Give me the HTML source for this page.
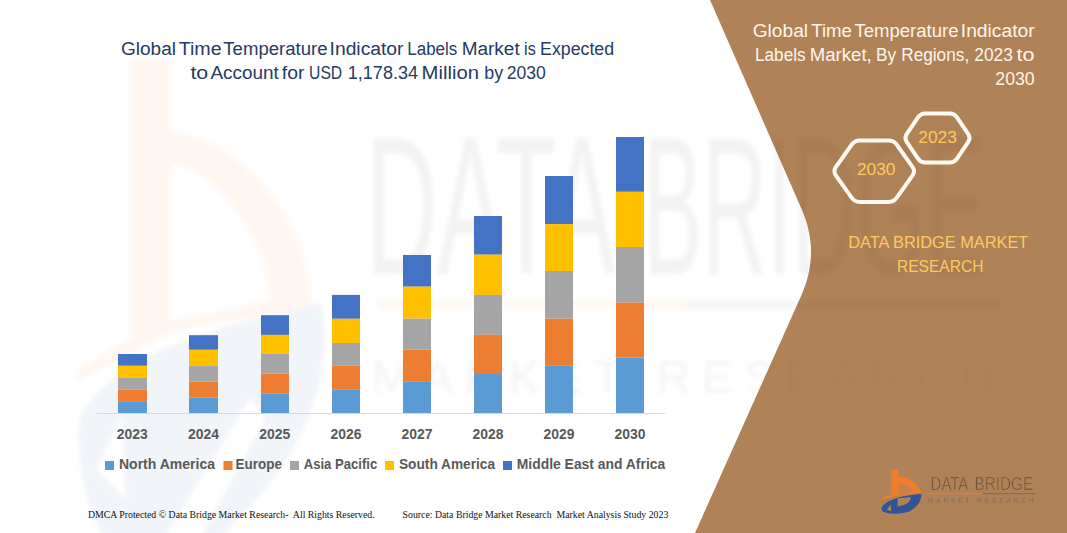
<!DOCTYPE html>
<html>
<head>
<meta charset="utf-8">
<title>Global Time Temperature Indicator Labels Market</title>
<style>
html,body{margin:0;padding:0;background:#fff;}
body{width:1067px;height:533px;overflow:hidden;position:relative;font-family:"Liberation Sans",sans-serif;}
svg{position:absolute;left:0;top:0;display:block;}
text{font-family:"Liberation Sans",sans-serif;}
.serif{font-family:"Liberation Serif",serif;}
</style>
</head>
<body>
<svg width="1067" height="533" viewBox="0 0 1067 533">
  <defs>
    <filter id="blur2" x="-10%" y="-10%" width="120%" height="120%"><feGaussianBlur stdDeviation="2"/></filter>
    <filter id="blur05" x="-5%" y="-5%" width="110%" height="110%"><feGaussianBlur stdDeviation="0.45"/></filter>
    <filter id="blur1" x="-10%" y="-10%" width="120%" height="120%"><feGaussianBlur stdDeviation="1.2"/></filter>
  
    <g id="lg">
      <!-- orange b -->
      <path stroke="none" fill="#f57d28" fill-rule="evenodd" d="M891.1,469.6 H898.3 V476.6 C907,476.6 917,481 921.5,492.9 L900,495.6 L882,499.6 L881,498.6 L891.1,494.5 Z M898.3,483.8 C905,484 911,487 913.5,492.5 L898.3,494.3 Z"/>
      <path stroke="none" fill="#f57d28" fill-opacity="0.35" d="M898.3,483.8 C905,484 911,487 913.5,492.5 L898.3,494.3 Z"/>
      <!-- blue swoosh -->
      <path stroke="none" fill="#27519c" fill-rule="evenodd" d="M881.6,507.6 C886,501 897,496 921.5,493.8 C921.5,502 916,509.5 905.8,512.6 C898,514.3 888,514 883.3,511.8 C881.5,510.5 881.2,509 881.6,507.6 Z M897.6,498.6 L910.6,496.9 C911,500.5 908.3,505.2 897.6,506.5 Z M886.8,509.6 L890.8,504.6 L891.2,511.4 Z"/>
      <g id="lgt">
      <text x="930.6" y="490" font-size="18" fill="#5a4636" fill-opacity="0.9" textLength="37.7" lengthAdjust="spacingAndGlyphs">DATA</text>
      <text x="974.6" y="490" font-size="18" fill="#5a4636" fill-opacity="0.9" textLength="58.6" lengthAdjust="spacingAndGlyphs">BRIDGE</text>
      <rect stroke="none" x="927" y="493.1" width="55.4" height="1.1" fill="#f57d28"/>
      <rect stroke="none" x="982.4" y="493.1" width="53.4" height="1.1" fill="#7d6a5c"/>
      <text stroke="none" x="928" y="503" font-size="6.4" fill="#7d6a5c" textLength="105.5" lengthAdjust="spacing">MARKET RESEARCH</text>
    </g>
    </g>
  </defs>
  <rect x="0" y="0" width="1067" height="533" fill="#ffffff"/>

  <!-- brown panel -->
  <path id="panel" d="M710,0 L802,210 C808,224 811,238 811,252 C811,266 808,280 801.5,295 L695,533 L1067,533 L1067,0 Z" fill="#b08257"/>

  <!-- WATERMARK -->
  <g id="wm" opacity="0.06" filter="url(#blur2)">
    <path fill="#f57d28" fill-rule="evenodd" d="M131,58 H172 V130 C216,138 262,172 288,220 C304,250 311,280 312,306 L172,332 L92,374 L77,381 L75,371 L131,338 Z M172,163 C210,172 244,210 261,256 C267,272 270,288 270,300 L172,321 Z"/>
    <path fill="#27519c" fill-rule="evenodd" d="M79,424 C92,382 150,338 320,303 C331,340 322,400 292,450 C272,485 242,515 215,545 L108,545 C88,512 77,470 79,424 Z M250,398 L266,418 L196,545 L160,545 Z M96,470 L122,415 L126,500 Z"/>
    <g fill="#4a3c32">
      <text x="366" y="273.7" font-size="196" textLength="249" lengthAdjust="spacingAndGlyphs">DATA</text>
      <text x="643" y="273.7" font-size="196" textLength="342" lengthAdjust="spacingAndGlyphs">BRIDGE</text>
      <rect x="377" y="300.5" width="310" height="8" fill="#f57d28"/>
      <rect x="687" y="300.5" width="314" height="8" fill="#6d5a4c"/>
      <text x="372" y="393" font-size="46" fill="#6d5a4c" textLength="622" lengthAdjust="spacing">MARKET RESEARCH</text>
    </g>
  </g>

  <!-- CHART -->
  <g id="chart">
    <line x1="97" y1="413.5" x2="665" y2="413.5" stroke="#d9d9d9" stroke-width="1"/>
    <rect x="118" y="354.0" width="29" height="11.8" fill="#4472c4"/>
    <rect x="118" y="365.8" width="29" height="12.2" fill="#ffc000"/>
    <rect x="118" y="378.0" width="29" height="11.8" fill="#a5a5a5"/>
    <rect x="118" y="389.8" width="29" height="12.1" fill="#ed7d31"/>
    <rect x="118" y="401.9" width="29" height="11.1" fill="#5b9bd5"/>
    <rect x="189" y="335.2" width="29" height="14.6" fill="#4472c4"/>
    <rect x="189" y="349.8" width="29" height="16.3" fill="#ffc000"/>
    <rect x="189" y="366.1" width="29" height="15.5" fill="#a5a5a5"/>
    <rect x="189" y="381.6" width="29" height="16.0" fill="#ed7d31"/>
    <rect x="189" y="397.6" width="29" height="15.4" fill="#5b9bd5"/>
    <rect x="261" y="315.2" width="28" height="19.7" fill="#4472c4"/>
    <rect x="261" y="334.9" width="28" height="19.1" fill="#ffc000"/>
    <rect x="261" y="354.0" width="28" height="19.7" fill="#a5a5a5"/>
    <rect x="261" y="373.7" width="28" height="20.0" fill="#ed7d31"/>
    <rect x="261" y="393.7" width="28" height="19.3" fill="#5b9bd5"/>
    <rect x="332" y="294.9" width="28" height="23.9" fill="#4472c4"/>
    <rect x="332" y="318.8" width="28" height="24.2" fill="#ffc000"/>
    <rect x="332" y="343.0" width="28" height="22.8" fill="#a5a5a5"/>
    <rect x="332" y="365.8" width="28" height="24.0" fill="#ed7d31"/>
    <rect x="332" y="389.8" width="28" height="23.2" fill="#5b9bd5"/>
    <rect x="403" y="255.0" width="28" height="31.7" fill="#4472c4"/>
    <rect x="403" y="286.7" width="28" height="32.0" fill="#ffc000"/>
    <rect x="403" y="318.7" width="28" height="31.0" fill="#a5a5a5"/>
    <rect x="403" y="349.7" width="28" height="32.1" fill="#ed7d31"/>
    <rect x="403" y="381.8" width="28" height="31.2" fill="#5b9bd5"/>
    <rect x="474" y="216.0" width="28" height="38.7" fill="#4472c4"/>
    <rect x="474" y="254.7" width="28" height="40.2" fill="#ffc000"/>
    <rect x="474" y="294.9" width="28" height="39.9" fill="#a5a5a5"/>
    <rect x="474" y="334.8" width="28" height="39.2" fill="#ed7d31"/>
    <rect x="474" y="374.0" width="28" height="39.0" fill="#5b9bd5"/>
    <rect x="545" y="176.0" width="28" height="48.1" fill="#4472c4"/>
    <rect x="545" y="224.1" width="28" height="46.9" fill="#ffc000"/>
    <rect x="545" y="271.0" width="28" height="47.7" fill="#a5a5a5"/>
    <rect x="545" y="318.7" width="28" height="47.1" fill="#ed7d31"/>
    <rect x="545" y="365.8" width="28" height="47.2" fill="#5b9bd5"/>
    <rect x="616" y="137.0" width="28" height="54.8" fill="#4472c4"/>
    <rect x="616" y="191.8" width="28" height="55.2" fill="#ffc000"/>
    <rect x="616" y="247.0" width="28" height="55.7" fill="#a5a5a5"/>
    <rect x="616" y="302.7" width="28" height="54.9" fill="#ed7d31"/>
    <rect x="616" y="357.6" width="28" height="55.4" fill="#5b9bd5"/>

    <!-- axis labels -->
    <g font-weight="bold" font-size="14" fill="#595959" text-anchor="middle">
      <text x="132.2" y="439.2" textLength="31" lengthAdjust="spacingAndGlyphs">2023</text>
      <text x="203.5" y="439.2" textLength="31" lengthAdjust="spacingAndGlyphs">2024</text>
      <text x="274.8" y="439.2" textLength="31" lengthAdjust="spacingAndGlyphs">2025</text>
      <text x="346" y="439.2" textLength="31" lengthAdjust="spacingAndGlyphs">2026</text>
      <text x="417" y="439.2" textLength="31" lengthAdjust="spacingAndGlyphs">2027</text>
      <text x="488" y="439.2" textLength="31" lengthAdjust="spacingAndGlyphs">2028</text>
      <text x="559" y="439.2" textLength="31" lengthAdjust="spacingAndGlyphs">2029</text>
      <text x="630" y="439.2" textLength="31" lengthAdjust="spacingAndGlyphs">2030</text>
    </g>
    <!-- legend -->
    <rect x="105" y="461" width="9" height="9" fill="#5b9bd5"/>
    <rect x="223.5" y="461" width="9" height="9" fill="#ed7d31"/>
    <rect x="290" y="461" width="9" height="9" fill="#a5a5a5"/>
    <rect x="385" y="461" width="9" height="9" fill="#ffc000"/>
    <rect x="503" y="461" width="9" height="9" fill="#4472c4"/>
    <g font-weight="bold" font-size="14" fill="#595959">
      <text x="119" y="469.2" textLength="96" lengthAdjust="spacingAndGlyphs">North America</text>
      <text x="235.6" y="469.2" textLength="46.4" lengthAdjust="spacingAndGlyphs">Europe</text>
      <text x="303.7" y="469.2" textLength="73.6" lengthAdjust="spacingAndGlyphs">Asia Pacific</text>
      <text x="399" y="469.2" textLength="96" lengthAdjust="spacingAndGlyphs">South America</text>
      <text x="516.8" y="469.2" textLength="148.4" lengthAdjust="spacingAndGlyphs">Middle East and Africa</text>
    </g>
    <!-- title -->
    <g font-size="18" fill="#263a63">
      <text x="121.0" y="54.8" textLength="55.0" lengthAdjust="spacingAndGlyphs">Global</text>
      <text x="178.7" y="54.8" textLength="42.9" lengthAdjust="spacingAndGlyphs">Time</text>
      <text x="223.3" y="54.8" textLength="104.3" lengthAdjust="spacingAndGlyphs">Temperature</text>
      <text x="329.6" y="54.8" textLength="73.9" lengthAdjust="spacingAndGlyphs">Indicator</text>
      <text x="407.3" y="54.8" textLength="49.9" lengthAdjust="spacingAndGlyphs">Labels</text>
      <text x="461.7" y="54.8" textLength="58.0" lengthAdjust="spacingAndGlyphs">Market</text>
      <text x="524.1" y="54.8" textLength="11.6" lengthAdjust="spacingAndGlyphs">is</text>
      <text x="540.1" y="54.8" textLength="74.0" lengthAdjust="spacingAndGlyphs">Expected</text>
      <text x="190.4" y="78.6" textLength="17.8" lengthAdjust="spacingAndGlyphs">to</text>
      <text x="210.4" y="78.6" textLength="68.4" lengthAdjust="spacingAndGlyphs">Account</text>
      <text x="281.8" y="78.6" textLength="22.6" lengthAdjust="spacingAndGlyphs">for</text>
      <text x="309.1" y="78.6" textLength="33.1" lengthAdjust="spacingAndGlyphs">USD</text>
      <text x="347.8" y="78.6" textLength="70.2" lengthAdjust="spacingAndGlyphs">1,178.34</text>
      <text x="421.6" y="78.6" textLength="57.4" lengthAdjust="spacingAndGlyphs">Million</text>
      <text x="484.3" y="78.6" textLength="18.9" lengthAdjust="spacingAndGlyphs">by</text>
      <text x="506.7" y="78.6" textLength="39.2" lengthAdjust="spacingAndGlyphs">2030</text>
    </g>
    <!-- footer -->
    <g class="serif" font-size="10" fill="#111">
      <text class="serif" x="88" y="517.8" textLength="286.7" lengthAdjust="spacingAndGlyphs" xml:space="preserve">DMCA Protected © Data Bridge Market Research-  All Rights Reserved.</text>
      <text class="serif" x="402.6" y="517.8" textLength="265.7" lengthAdjust="spacingAndGlyphs" xml:space="preserve">Source: Data Bridge Market Research  Market Analysis Study 2023</text>
    </g>
  </g>

  <!-- RIGHT PANEL CONTENT -->
  <g id="right">
    <g font-size="18" fill="#fdf6ec">
      <text x="752.7" y="37.3" textLength="55.4" lengthAdjust="spacingAndGlyphs">Global</text>
      <text x="811.2" y="37.3" textLength="40.8" lengthAdjust="spacingAndGlyphs">Time</text>
      <text x="854.5" y="37.3" textLength="104.0" lengthAdjust="spacingAndGlyphs">Temperature</text>
      <text x="960.8" y="37.3" textLength="73.9" lengthAdjust="spacingAndGlyphs">Indicator</text>
      <text x="755.0" y="61.3" textLength="50.6" lengthAdjust="spacingAndGlyphs">Labels</text>
      <text x="809.8" y="61.3" textLength="61.9" lengthAdjust="spacingAndGlyphs">Market,</text>
      <text x="875.9" y="61.3" textLength="20.2" lengthAdjust="spacingAndGlyphs">By</text>
      <text x="901.2" y="61.3" textLength="68.0" lengthAdjust="spacingAndGlyphs">Regions,</text>
      <text x="974.3" y="61.3" textLength="38.5" lengthAdjust="spacingAndGlyphs">2023</text>
      <text x="1016.4" y="61.3" textLength="18.0" lengthAdjust="spacingAndGlyphs">to</text>
      <text x="995.3" y="85" textLength="39.4" lengthAdjust="spacingAndGlyphs">2030</text>
    </g>
    <path d="M835.8,175.3 Q833.0,171.2 835.8,167.1 L851.8,144.5 Q854.7,140.4 859.7,140.4 L888.7,140.4 Q893.7,140.4 896.6,144.5 L912.6,167.1 Q915.5,171.2 912.6,175.3 L896.6,197.9 Q893.7,201.9 888.7,201.9 L859.7,201.9 Q854.7,201.9 851.8,197.9 Z" fill="none" stroke="#fffaf4" stroke-width="4" stroke-linejoin="round"/>
    <path d="M906.7,141.8 Q904.2,138.0 906.7,134.2 L918.0,117.3 Q920.5,113.5 925.0,113.5 L950.0,113.5 Q954.5,113.5 957.0,117.3 L968.3,134.2 Q970.8,138.0 968.3,141.8 L957.0,158.7 Q954.5,162.5 950.0,162.5 L925.0,162.5 Q920.5,162.5 918.0,158.7 Z" fill="none" stroke="#fffaf4" stroke-width="4" stroke-linejoin="round"/>
    <g font-size="16" fill="#ffc95c" text-anchor="middle">
      <text x="876.2" y="175.4" textLength="38.5" lengthAdjust="spacingAndGlyphs">2030</text>
      <text x="937.6" y="143.4" textLength="38.5" lengthAdjust="spacingAndGlyphs">2023</text>
    </g>
    <g font-size="16.5" fill="#ffc95c" text-anchor="middle">
      <text x="938.3" y="247.6" textLength="180" lengthAdjust="spacingAndGlyphs">DATA BRIDGE MARKET</text>
      <text x="940.2" y="272" textLength="86.4" lengthAdjust="spacingAndGlyphs">RESEARCH</text>
    </g>
  </g>

  <!-- LOGO -->
  <g id="logo" opacity="0.92" filter="url(#blur05)"><use href="#lg" stroke="#b08257" stroke-width="0.55"/></g>
</svg>
</body>
</html>
